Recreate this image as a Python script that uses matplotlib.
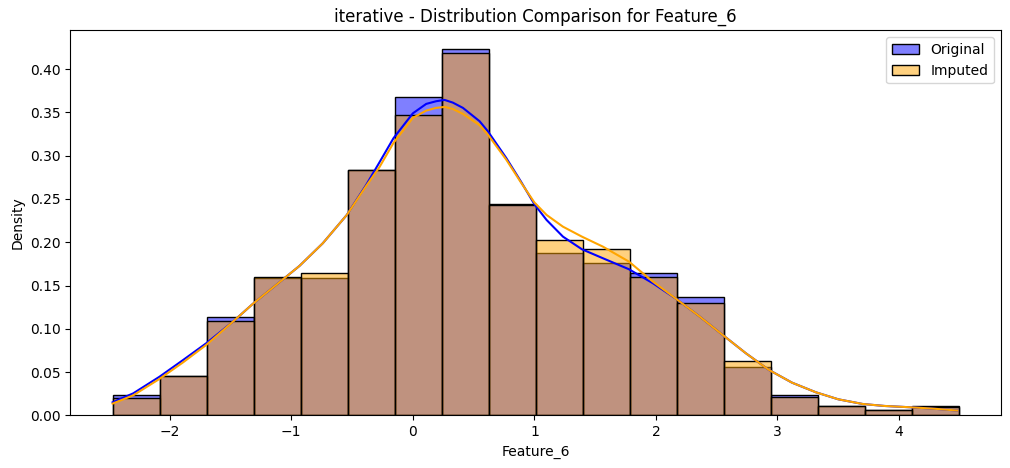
import numpy as np
import matplotlib
matplotlib.use("Agg")
import matplotlib.pyplot as plt

# ---- data ----
bin_start = -2.47
bin_end = 4.49
n_bins = 18

orig_density = [0.0231, 0.0455, 0.1133, 0.1591, 0.1584, 0.2830, 0.3676, 0.4238, 0.2440,
                0.1873, 0.1757, 0.1642, 0.1364, 0.0562, 0.0231, 0.0111, 0.0058, 0.0111]
imp_density = [0.0203, 0.0460, 0.1087, 0.1602, 0.1649, 0.2838, 0.3468, 0.4185, 0.2432,
               0.2023, 0.1919, 0.1602, 0.1295, 0.0624, 0.0208, 0.0108, 0.0058, 0.0092]

kde_x = [-2.47, -2.30, -2.085, -1.89, -1.70, -1.48, -1.317, -1.125, -0.933, -0.741,
         -0.543, -0.384, -0.274, -0.159, 0.0, 0.11, 0.192, 0.261, 0.329, 0.412,
         0.549, 0.617, 0.768, 0.89, 1.0, 1.10, 1.235, 1.391, 1.564, 1.778,
         1.975, 2.167, 2.35, 2.55, 2.74, 2.93, 3.12, 3.316, 3.50, 3.70,
         3.88, 4.09, 4.27, 4.48]
kde_orig = [0.0150, 0.0254, 0.0445, 0.0639, 0.0832, 0.1082, 0.1287, 0.1506, 0.1726, 0.1988,
            0.2316, 0.2662, 0.2925, 0.3203, 0.3490, 0.3599, 0.3630, 0.3645, 0.3614, 0.3553,
            0.3399, 0.3283, 0.2975, 0.2700, 0.2440, 0.2258, 0.2065, 0.1919, 0.1815, 0.1688,
            0.1526, 0.1345, 0.1152, 0.0928, 0.0717, 0.0524, 0.0377, 0.0266, 0.0185, 0.0131,
            0.0108, 0.0093, 0.0078, 0.0055]
kde_imp = [0.0135, 0.0231, 0.0420, 0.0612, 0.0813, 0.1082, 0.1287, 0.1506, 0.1726, 0.1988,
           0.2316, 0.2650, 0.2870, 0.3149, 0.3437, 0.3522, 0.3553, 0.3564, 0.3541, 0.3484,
           0.3353, 0.3245, 0.2956, 0.2690, 0.2460, 0.2316, 0.2180, 0.2065, 0.1949, 0.1776,
           0.1545, 0.1345, 0.1152, 0.0928, 0.0717, 0.0524, 0.0377, 0.0266, 0.0185, 0.0131,
           0.0108, 0.0093, 0.0078, 0.0055]

title = "iterative - Distribution Comparison for Feature_6"
feature = "Feature_6"

# ---- plot ----
edges = np.linspace(bin_start, bin_end, n_bins + 1)
widths = np.diff(edges)

fig = plt.figure(figsize=(10.10, 4.68), dpi=100)
ax = fig.add_axes([0.0696, 0.1126, 0.9214, 0.8227])

ax.bar(edges[:-1], orig_density, width=widths, align="edge", color="blue", alpha=0.5,
       edgecolor="black", linewidth=1.0, label="Original")
ax.plot(kde_x, kde_orig, color="blue", linewidth=1.5)
ax.bar(edges[:-1], imp_density, width=widths, align="edge", color="orange", alpha=0.5,
       edgecolor="black", linewidth=1.0, label="Imputed")
ax.plot(kde_x, kde_imp, color="orange", linewidth=1.5)

# translucent fill, opaque black edges (as seaborn draws them)
for p in ax.patches:
    fc = p.get_facecolor()
    p.set_alpha(None)
    p.set_facecolor((fc[0], fc[1], fc[2], 0.5))
    p.set_edgecolor((0, 0, 0, 1))

ax.set_title(title, fontsize=12)
ax.set_xlabel(feature)
ax.set_ylabel("Density")
ax.set_yticks(np.arange(0, 0.41, 0.05))
ax.legend(loc="upper right")

fig.savefig("out.png", dpi=100)
